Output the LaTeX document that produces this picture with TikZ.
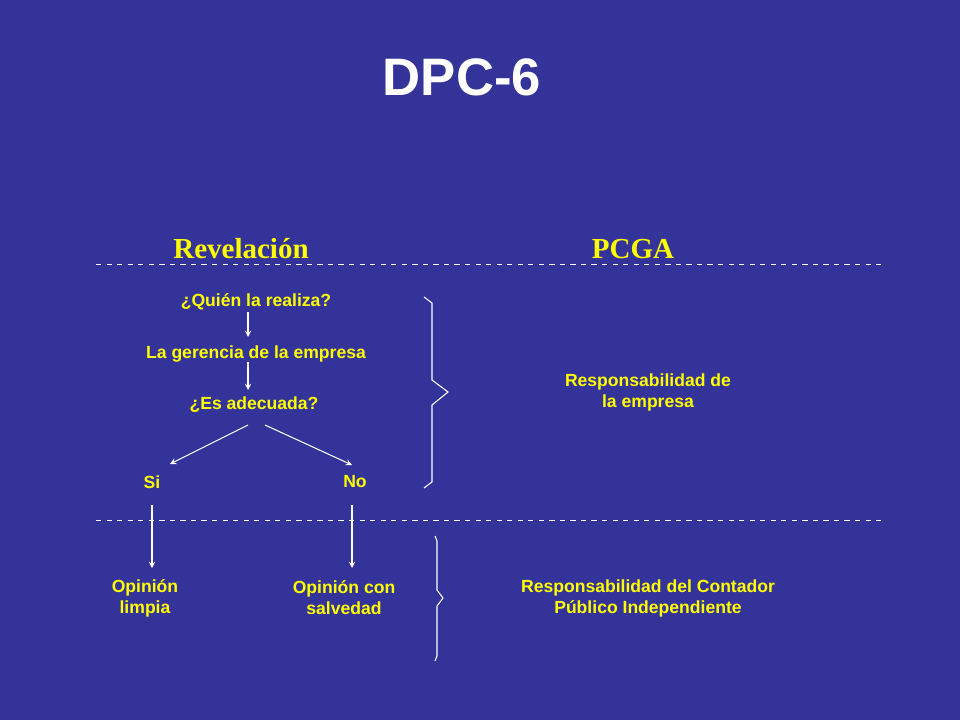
\documentclass[tikz,border=0pt]{standalone}
\usepackage{fontspec}
\setmainfont{Liberation Sans}
\newfontfamily\serifx{Liberation Serif}
\begin{document}
\begin{tikzpicture}[x=0.02cm,y=-0.02cm,
 lbl/.style={text=yellowx,font=\bfseries\fontsize{10}{12}\selectfont,align=center,inner sep=1pt},
 hd/.style={text=yellowx,font=\serifx\bfseries\fontsize{16.5}{19}\selectfont},
 arr/.style={draw=white,->,>=stealth,line width=0.6pt},
 dashline/.style={draw=white,dashed,line width=0.5pt}]
\definecolor{bgx}{RGB}{51,51,153}
\definecolor{yellowx}{RGB}{255,255,0}
\fill[bgx] (0,0) rectangle (960,720);
\useasboundingbox (0,0) rectangle (960,720);
\node[text=white,font=\bfseries\fontsize{30}{34}\selectfont] (title) at (462,77) {DPC-6};
\node[hd] (rev) at (241,249) {Revelación};
\node[hd] (pcga) at (633,249) {PCGA};
\coordinate (d1a) at (96,264); \coordinate (d1b) at (885,264);
\coordinate (d2a) at (96,520); \coordinate (d2b) at (885,520);
\draw[dashline] (d1a) -- (d1b);
\draw[dashline] (d2a) -- (d2b);
\node[lbl] (q) at (256,302) {¿Quién la realiza?};
\node[lbl] (g) at (256,354) {La gerencia de la empresa};
\node[lbl] (e) at (254,405) {¿Es adecuada?};
\node[lbl] (si) at (152,482) {Si};
\node[lbl] (no) at (355,482) {No};
\node[lbl] (ol) at (145,598) {Opinión\\ limpia};
\node[lbl] (os) at (344,598) {Opinión con\\ salvedad};
\node[lbl] (re) at (648,392) {Responsabilidad de\\la empresa};
\node[lbl] (rc) at (648,598) {Responsabilidad del Contador\\Público Independiente};
\coordinate (a1) at (248,312); \coordinate (a2) at (248,337);
\coordinate (a3) at (248,362); \coordinate (a4) at (248,390);
\coordinate (a5) at (248,425); \coordinate (a6) at (170,464);
\coordinate (a7) at (265,425); \coordinate (a8) at (352,465);
\coordinate (a9) at (152,505); \coordinate (a10) at (152,568);
\coordinate (a11) at (352,505); \coordinate (a12) at (352,568);
\draw[arr] (a1) -- (a2);
\draw[arr] (a3) -- (a4);
\draw[arr] (a5) -- (a6);
\draw[arr] (a7) -- (a8);
\draw[arr] (a9) -- (a10);
\draw[arr] (a11) -- (a12);
\draw[white,line width=0.6pt] (424,297) -- (432,303) -- (432,380) -- (448,392) -- (432,405) -- (432,482) -- (424,488);
\draw[white,line width=0.6pt] (435,536) -- (437,541) -- (437,590) -- (443,598) -- (437,606) -- (437,656) -- (435,661);
\end{tikzpicture}
\end{document}
